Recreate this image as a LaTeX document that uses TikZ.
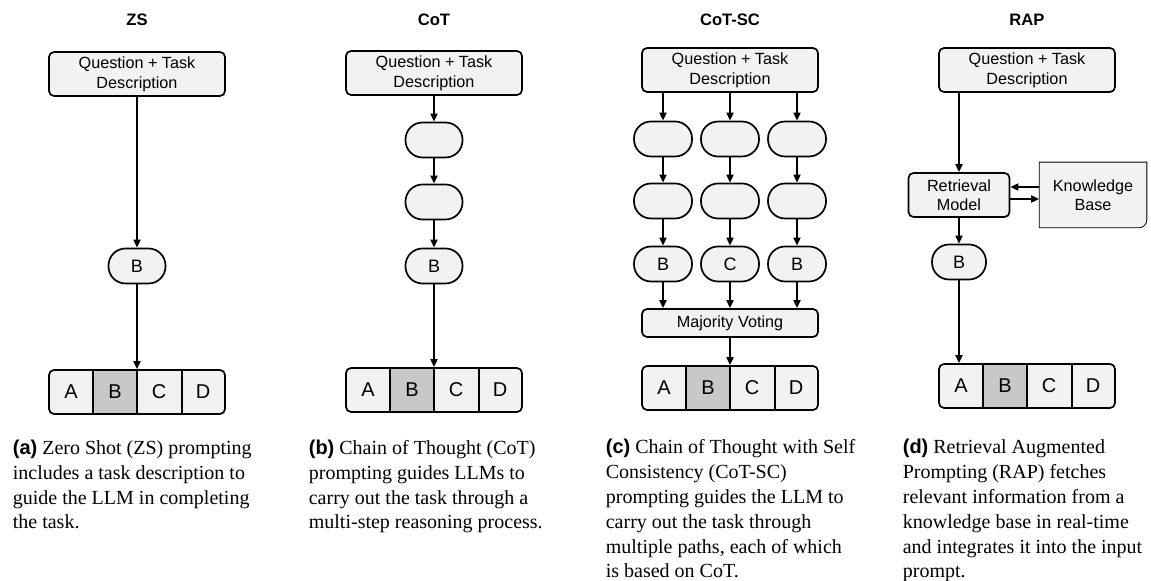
\documentclass[tikz,border=0pt]{standalone}
\usepackage{fontspec}
\setmainfont{Liberation Serif}
\setsansfont{Liberation Sans}
\usetikzlibrary{arrows.meta,positioning,backgrounds}
\definecolor{boxfill}{HTML}{F2F2F2}
\definecolor{pickfill}{HTML}{C8C8C8}

\begin{document}
\begin{tikzpicture}[
    x=0.5pt, y=-0.5pt,
    line width=0.85pt,
    title/.style={font=\sffamily\bfseries\fontsize{8.3}{10}\selectfont},
    qbox/.style={rectangle, rounded corners=2.5pt, draw=black, fill=boxfill, minimum width=88pt, minimum height=22pt, inner sep=0pt, align=center, font=\sffamily\fontsize{8.1}{10}\selectfont},
    pill/.style={rectangle, rounded corners=8.5pt, draw=black, fill=boxfill, minimum width=28.5pt, minimum height=17.5pt, inner sep=0pt, font=\sffamily\fontsize{9}{10}\selectfont},
    bar/.style={rectangle, rounded corners=2.5pt, draw=black, fill=boxfill, minimum width=88pt, minimum height=22pt},
    cell/.style={rectangle, minimum width=22pt, minimum height=22pt, inner sep=0pt, font=\sffamily\fontsize{10}{12}\selectfont},
    caption/.style={anchor=base west, align=left, inner sep=0pt, font=\fontsize{10}{12.4}\selectfont},
    arrow/.style={-{Triangle[length=4pt, width=3.5pt]}}
]
\useasboundingbox (0,0) rectangle (1151,581);

% Titles
\node[title] (zstitle) at (137,20) {ZS};
\node[title] (cottitle) at (434,20) {CoT};
\node[title] (sctitle) at (730,20) {CoT-SC};
\node[title] (raptitle) at (1027,20) {RAP};

% Answer bars
\foreach \n/\x/\y in {zs/137/392, cot/434/390, sc/730/388, rap/1027/386} {
  \node[bar] (\n bar) at (\x,\y) {};
  \node[cell] (\n optA) at (\x-66,\y) {A};
  \node[cell, draw=black, fill=pickfill] (\n optB) at (\x-22,\y) {B};
  \node[cell] (\n optC) at (\x+22,\y) {C};
  \node[cell] (\n optD) at (\x+66,\y) {D};
  \draw (\n optC.north east) -- (\n optC.south east);
}

% ZS
\node[qbox] (zsq) at (137,74) {Question + Task\\Description};
\node[pill] (zsout) at (137,266) {B};
\draw[arrow] (zsq) -- (zsout);
\draw[arrow] (zsout) -- (zsbar);

% CoT
\node[qbox] (cotq) at (434,73) {Question + Task\\Description};
\node[pill] (cotstep1) at (434,140) {};
\node[pill] (cotstep2) at (434,202) {};
\node[pill] (cotout) at (434,266) {B};
\draw[arrow] (cotq) -- (cotstep1);
\draw[arrow] (cotstep1) -- (cotstep2);
\draw[arrow] (cotstep2) -- (cotout);
\draw[arrow] (cotout) -- (cotbar);

% CoT-SC
\node[qbox] (scq) at (730,70) {Question + Task\\Description};
\node[qbox, minimum height=14pt] (scvote) at (730,323) {Majority Voting};
\foreach \c/\x/\ans in {1/663/B, 2/730/C, 3/797/B} {
  \node[pill, minimum width=29pt] (sc\c step1) at (\x,139) {};
  \node[pill, minimum width=29pt] (sc\c step2) at (\x,201) {};
  \node[pill, minimum width=29pt] (sc\c out) at (\x,264) {\ans};
  \draw[arrow] (scq.south -| sc\c step1) -- (sc\c step1);
  \draw[arrow] (sc\c step1) -- (sc\c step2);
  \draw[arrow] (sc\c step2) -- (sc\c out);
  \draw[arrow] (sc\c out) -- (sc\c out |- scvote.north);
}
\draw[arrow] (scvote) -- (scbar);

% RAP
\node[qbox] (rapq) at (1027,70) {Question + Task\\Description};
\node[qbox, minimum width=50.5pt, font=\sffamily\fontsize{8.1}{9.5}\selectfont] (raprm) at (959,195) {Retrieval\\Model};
\node[rectangle, minimum width=53pt, minimum height=32pt, inner sep=0pt, align=center, font=\sffamily\fontsize{8.1}{9.5}\selectfont] (rapkb) at (1093,195) {Knowledge\\Base};
\begin{scope}[on background layer]
  \filldraw[fill=boxfill] (rapkb.south west) -- (rapkb.north west) -- (rapkb.north east)
    -- ([yshift=4pt]rapkb.south east) arc[start angle=0, end angle=-90, radius=4pt] -- cycle;
\end{scope}
\node[pill, minimum width=27pt] (rapout) at (959,262) {B};
\draw[arrow] (rapq.south -| raprm) -- (raprm);
\draw[arrow] ([yshift=4pt]rapkb.west) -- ([yshift=4pt]raprm.east);
\draw[arrow] ([yshift=-2pt]raprm.east) -- ([yshift=-2pt]rapkb.west);
\draw[arrow] (raprm) -- (rapout);
\draw[arrow] (rapout) -- (rapout |- rapbar.north);

% Captions (anchored at the last baseline)
\node[caption] (zscap) at (12,529) {{\sffamily\bfseries (a)} Zero Shot (ZS) prompting\\includes a task description to\\guide the LLM in completing\\the task.};
\node[caption] (cotcap) at (308,529) {{\sffamily\bfseries (b)} Chain of Thought (CoT)\\prompting guides LLMs to\\carry out the task through a\\multi-step reasoning process.};
\node[caption] (sccap) at (605,578) {{\sffamily\bfseries (c)} Chain of Thought with Self\\Consistency (CoT-SC)\\prompting guides the LLM to\\carry out the task through\\multiple paths, each of which\\is based on CoT.};
\node[caption] (rapcap) at (902,578) {{\sffamily\bfseries (d)} Retrieval Augmented\\Prompting (RAP) fetches\\relevant information from a\\knowledge base in real-time\\and integrates it into the input\\prompt.};
\end{tikzpicture}
\end{document}
